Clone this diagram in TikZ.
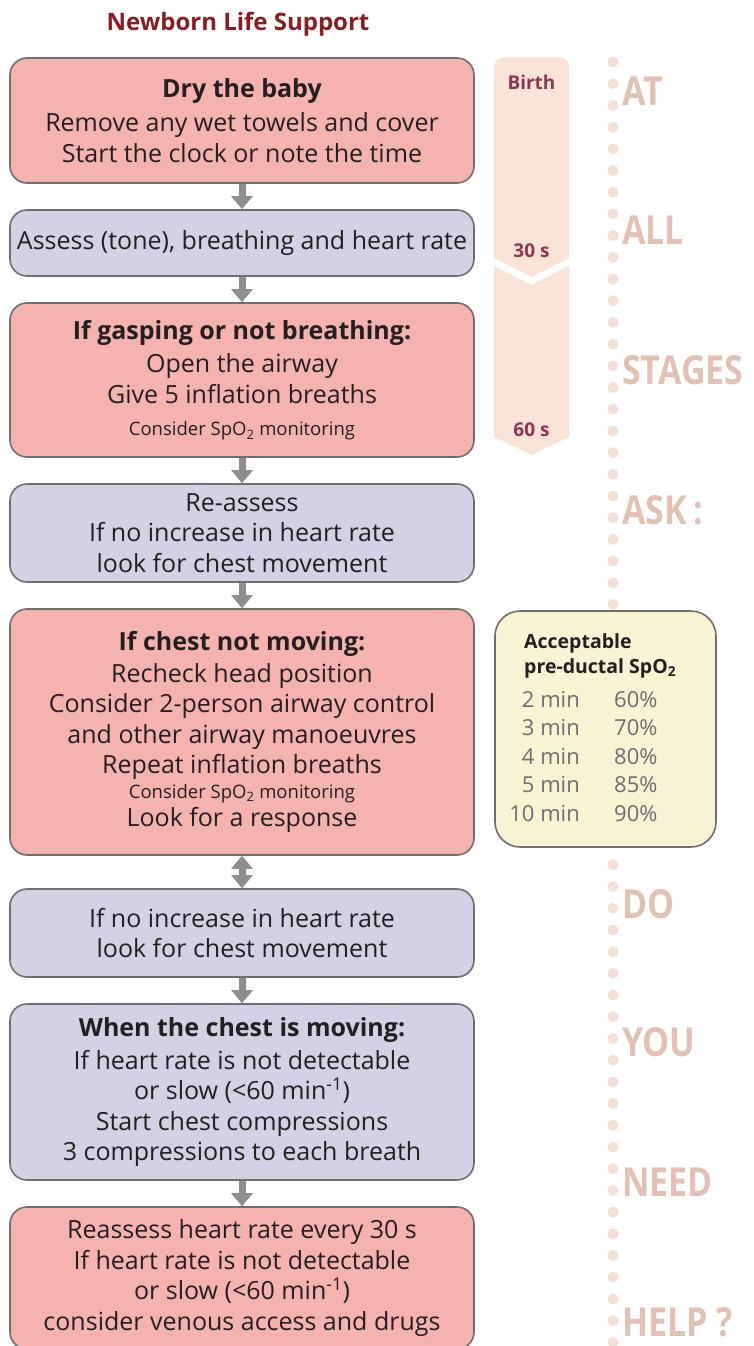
\documentclass[tikz,border=0pt]{standalone}
\usepackage{fontspec}
\setmainfont{Open Sans}
\newfontfamily\stagefont[FakeStretch=0.85]{Open Sans}
\usetikzlibrary{arrows.meta,positioning,calc}

\definecolor{nlsred}{HTML}{F5B3AF}
\definecolor{nlslilac}{HTML}{D5D0E3}
\definecolor{boxline}{HTML}{6F6F6F}
\definecolor{arrowgrey}{HTML}{8E8E8E}
\definecolor{ink}{HTML}{231F20}
\definecolor{titlered}{HTML}{8A1C24}
\definecolor{bandpeach}{HTML}{F9E3D7}
\definecolor{bandtext}{HTML}{8E3558}
\definecolor{dotpeach}{HTML}{F3DFD4}
\definecolor{wordpeach}{HTML}{E3C0B4}
\definecolor{spofill}{HTML}{F6F4D3}
\definecolor{spogrey}{HTML}{6D6E71}

\newcommand{\smalltxt}[1]{{\fontsize{18.5}{20}\selectfont #1}}

\tikzset{
  nlsbox/.style={draw=boxline, line width=1.6pt, rounded corners=17pt, minimum width=464pt,
    inner sep=0pt, align=center, text=ink, font=\fontsize{25}{30.5}\selectfont},
  redbox/.style={nlsbox, fill=nlsred},
  lilacbox/.style={nlsbox, fill=nlslilac},
  flow/.style={draw=arrowgrey, line width=7pt, -{Triangle[width=21pt,length=13pt]}},
  flowboth/.style={draw=arrowgrey, line width=7pt,
    {Triangle[width=21pt,length=13pt]}-{Triangle[width=21pt,length=13pt]}},
  stage/.style={anchor=west, inner sep=0pt, text=wordpeach, font=\fontsize{40}{40}\stagefont\bfseries},
  clock/.style={text=bandtext, font=\fontsize{19}{19}\selectfont\bfseries},
  spotxt/.style={inner sep=0pt, text=spogrey, font=\fontsize{22}{22}\selectfont},
}

\begin{document}
\begin{tikzpicture}[x=1pt, y=-1pt]
    \useasboundingbox (0,0) rectangle (754,1346);

    % Title
    \node[text=titlered, font=\fontsize{24}{24}\selectfont\bfseries] (title) at (238,24) {Newborn Life Support};

    % Time band
    \fill[bandpeach] (494,258) [rounded corners=10pt] -- (494,57) -- (569,57) -- (569,90)
        [sharp corners] -- (569,258) -- (531.5,277) -- cycle;
    \fill[bandpeach] (494,266) -- (531.5,285) -- (569,266) -- (569,437) -- (531.5,455) -- (494,437) -- cycle;
    \node[clock] (birth) at (531.5,82) {Birth};
    \node[clock] (t30) at (531.5,251) {30 s};
    \node[clock] (t60) at (531.5,430) {60 s};

    % Dotted line
    \foreach \k in {0,...,59}
        \fill[dotpeach] (613,62+21.7*\k) circle (5.5pt);

    % Stage words
    \node[stage] (at) at (622,91) {AT};
    \node[stage] (all) at (622,230) {ALL};
    \node[stage] (stages) at (622,370) {STAGES};
    \node[stage] (ask) at (622,510) {ASK\,:};
    \node[stage] (do) at (622,904) {DO};
    \node[stage] (you) at (622,1042) {YOU};
    \node[stage] (need) at (622,1182) {NEED};
    \node[stage] (help) at (622,1322) {HELP ?};

    % SpO2 table
    \node[draw=boxline, line width=1.6pt, fill=spofill, rounded corners=25pt,
        minimum width=221pt, minimum height=236pt] (spo) at (605.5,729) {};
    \node[anchor=base west, inner sep=0pt, align=left, text=ink,
        font=\fontsize{19.5}{25}\selectfont\bfseries] (spohead) at (524,673)
        {Acceptable\\pre-ductal SpO\textsubscript{2}};
    \foreach \m/\p [count=\k from 0] in {2/60,3/70,4/80,5/85,10/90} {
        \node[spotxt, anchor=base east] (min\k) at (580,707+28.6*\k) {\m\ min};
        \node[spotxt, anchor=base west] (pct\k) at (614,707+28.6*\k) {\p\%};
    }

    % Flow boxes
    \node[redbox, minimum height=125pt] (dry) at (242,120.5)
        {\textbf{Dry the baby}\\[4pt] Remove any wet towels and cover\\ Start the clock or note the time};
    \node[lilacbox, minimum height=66pt] (assess) at (242,243)
        {Assess (tone), breathing and heart rate};
    \node[redbox, minimum height=154pt] (gasp) at (242,380)
        {\textbf{If gasping or not breathing:}\\[3pt] Open the airway\\ Give 5 inflation breaths\\[2pt]
        \smalltxt{Consider SpO\textsubscript{2} monitoring}};
    \node[lilacbox, minimum height=98pt] (reassess) at (242,533)
        {Re-assess\\ If no increase in heart rate\\ look for chest movement};
    \node[redbox, minimum height=246pt] (chest) at (242,732)
        {\textbf{If chest not moving:}\\[1pt] Recheck head position\\ Consider 2-person airway control\\
        and other airway manoeuvres\\ Repeat inflation breaths\\[-6pt]
        \smalltxt{Consider SpO\textsubscript{2} monitoring}\\[-2pt] Look for a response};
    \node[lilacbox, minimum height=88pt] (noinc) at (242,933)
        {If no increase in heart rate\\ look for chest movement};
    \node[lilacbox, minimum height=176pt] (moving) at (242,1092)
        {\textbf{When the chest is moving:}\\[2pt] If heart rate is not detectable\\
        or slow (<60 min\textsuperscript{-1})\\ Start chest compressions\\ 3 compressions to each breath};
    \node[redbox, minimum height=142pt] (drugs) at (242,1278)
        {Reassess heart rate every 30 s\\ If heart rate is not detectable\\
        or slow (<60 min\textsuperscript{-1})\\ consider venous access and drugs};

    % Connectors
    \draw[flow] (dry) -- (assess);
    \draw[flow] (assess) -- (gasp);
    \draw[flow] (gasp) -- (reassess);
    \draw[flow] (reassess) -- (chest);
    \draw[flowboth] (chest) -- (noinc);
    \draw[flow] (noinc) -- (moving);
    \draw[flow] (moving) -- (drugs);
\end{tikzpicture}
\end{document}
